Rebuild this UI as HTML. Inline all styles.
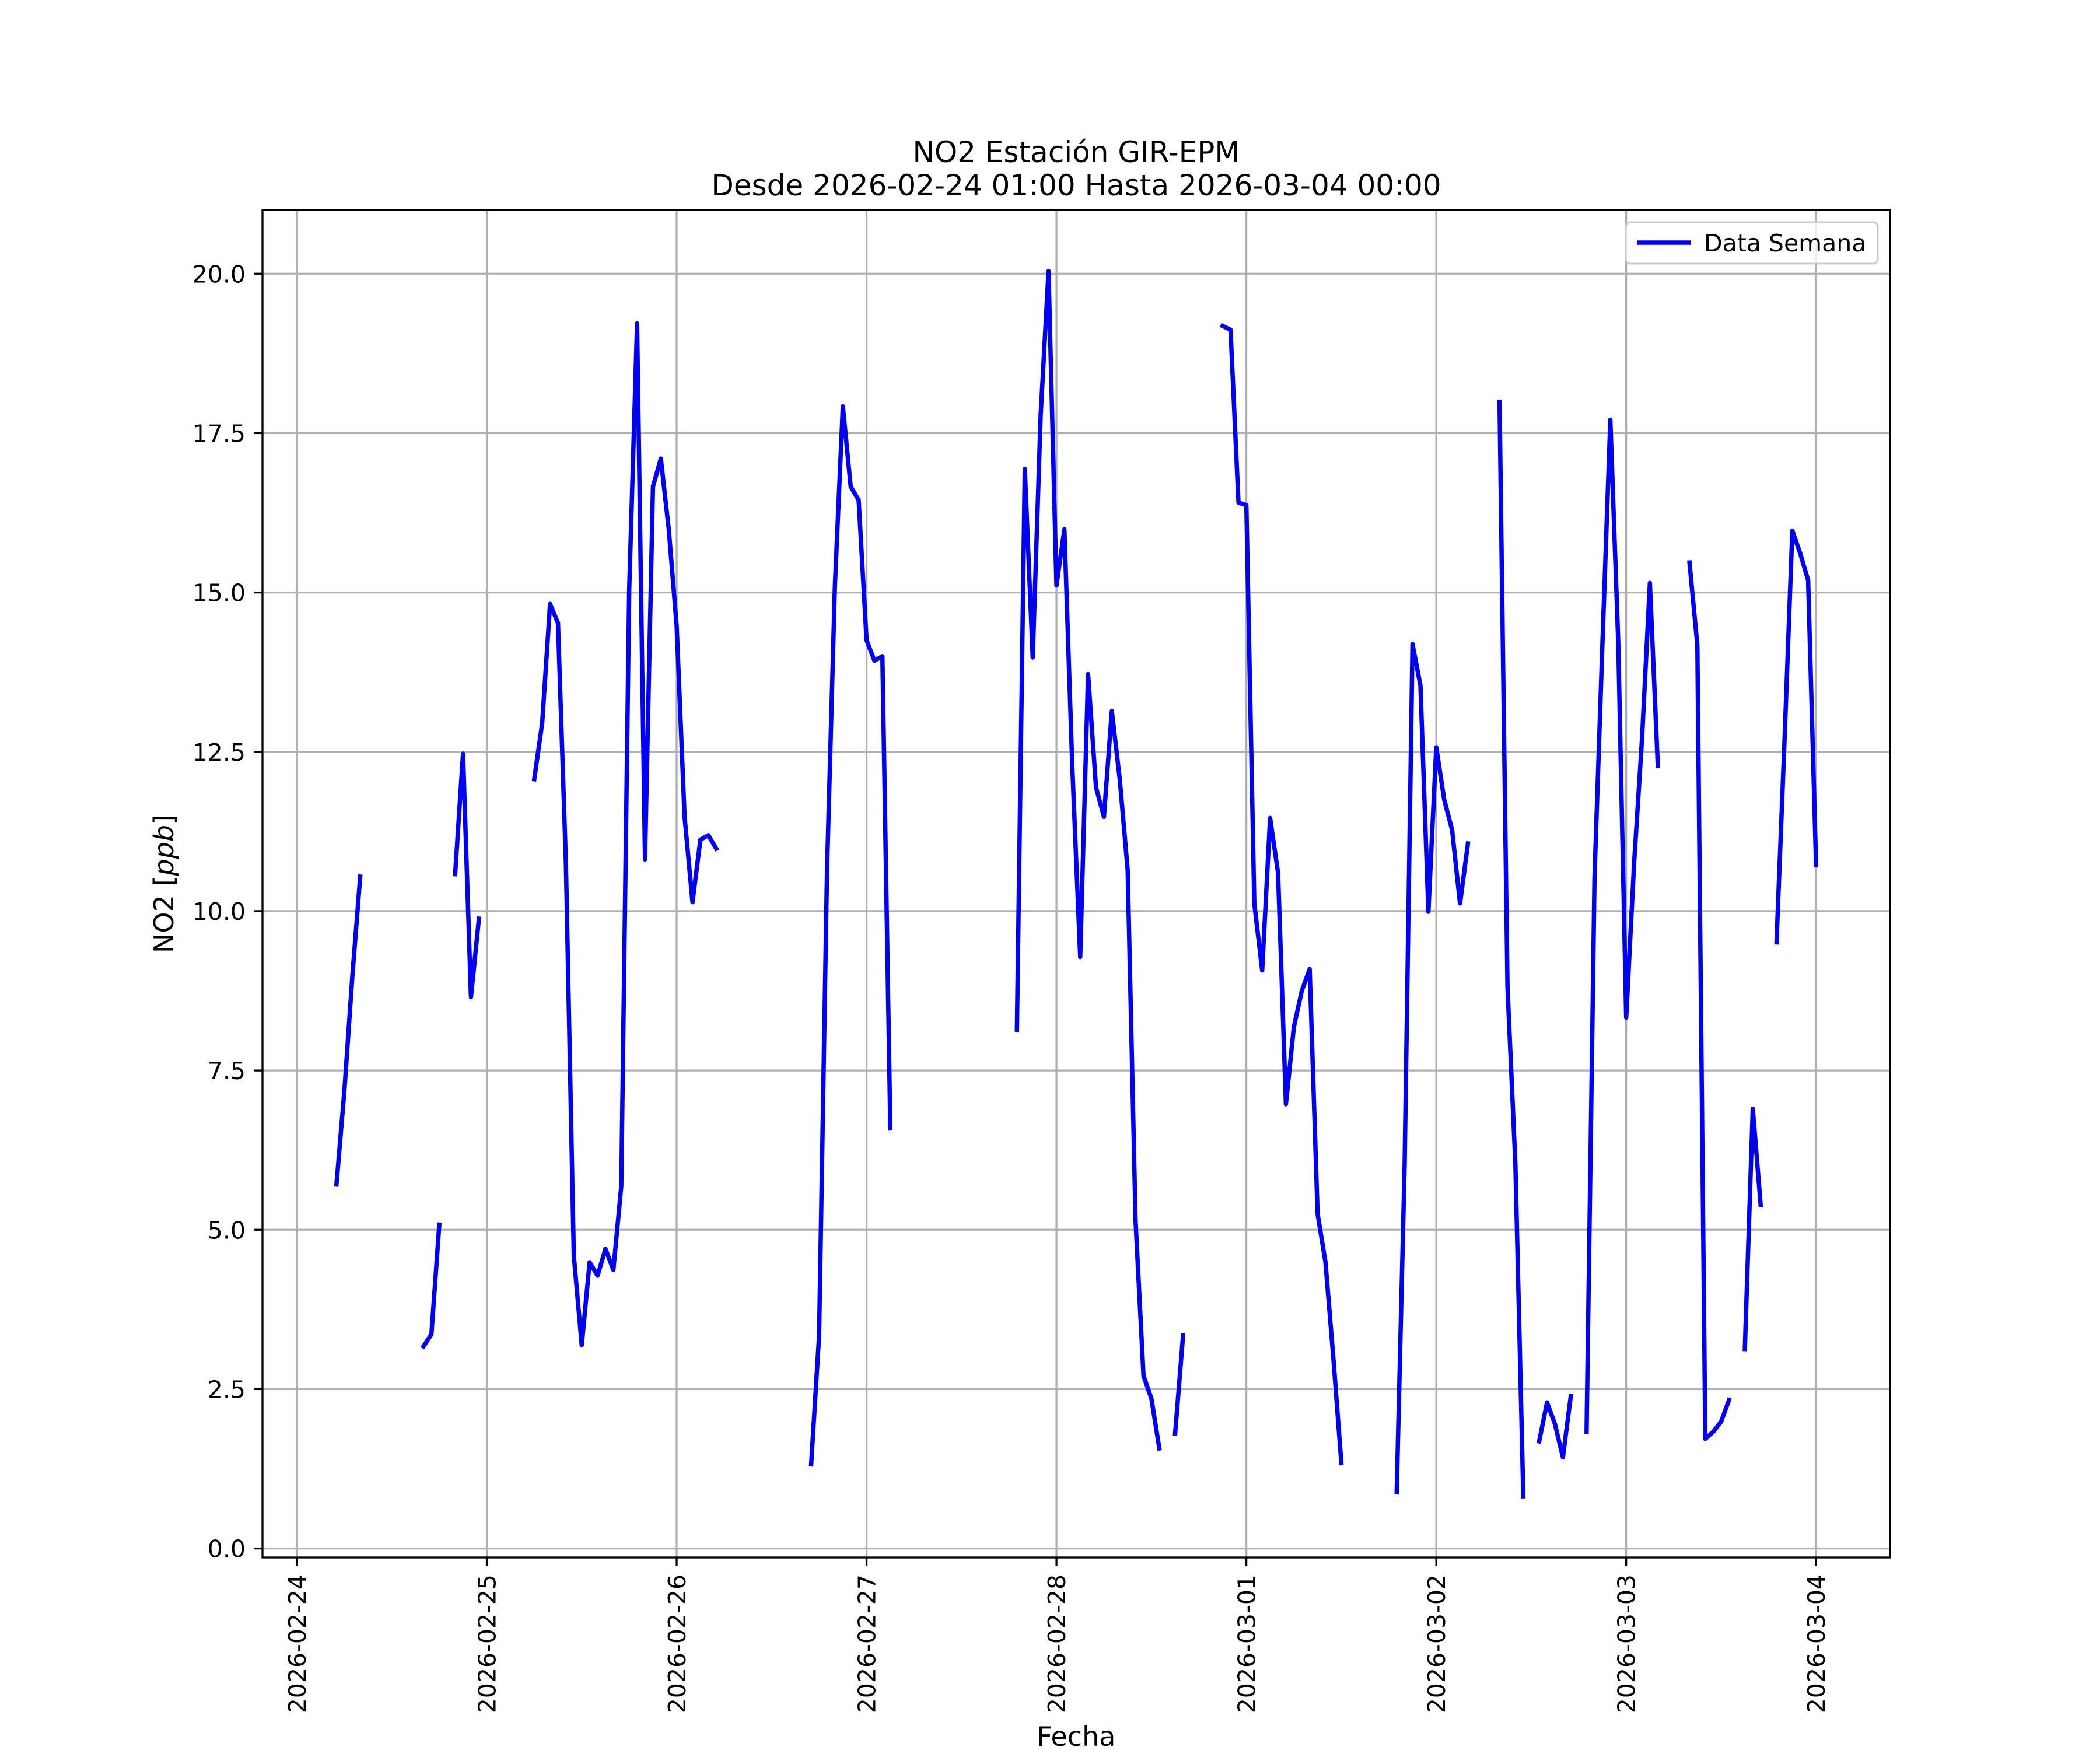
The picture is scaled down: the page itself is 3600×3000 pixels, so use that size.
<!DOCTYPE html>
<html><head><meta charset="utf-8"><style>
html,body{margin:0;padding:0;background:#fff;}
svg{display:block;font-family:"DejaVu Sans","Liberation Sans",sans-serif;}
</style></head><body>
<svg id="chart" width="3600" height="3000" viewBox="0 0 3600 3000">
<rect x="0" y="0" width="3600" height="3000" fill="#fff"/>
<g id="grid"></g>
<g id="series"></g>
<rect x="450" y="360" width="2790" height="2310" fill="none" stroke="#000" stroke-width="3.3"/>
<g id="ticks"></g>
<text x="1845" y="278" font-size="50" text-anchor="middle">NO2 Estación GIR-EPM</text>
<text x="1845" y="335" font-size="50" text-anchor="middle">Desde 2026-02-24 01:00 Hasta 2026-03-04 00:00</text>
<text x="0" y="0" font-size="46" text-anchor="middle" transform="translate(297,1515) rotate(-90)">NO2 [<tspan font-style="italic">ppb</tspan>]</text>
<text x="1845" y="2993" font-size="46" text-anchor="middle">Fecha</text>
<g>
<rect x="2787" y="381" width="432" height="71" rx="8" fill="#fff" fill-opacity="0.8" stroke="#ccc" stroke-width="3"/>
<line x1="2806" y1="416" x2="2898" y2="416" stroke="#0000ff" stroke-width="7.5"/>
<text x="2921" y="431" font-size="41">Data Semana</text>
</g>
</svg>
<script>
const xTickLabels = ["2026-02-24","2026-02-25","2026-02-26","2026-02-27","2026-02-28","2026-03-01","2026-03-02","2026-03-03","2026-03-04"];
const yTicks = [0,2.5,5,7.5,10,12.5,15,17.5,20];
const yTickLabels = ["0.0","2.5","5.0","7.5","10.0","12.5","15.0","17.5","20.0"];
const segStartHours = [5,16,20,30,65,91,111,117,139,152,157,163,176,183,187];
const segValues = [
 [5.71,7.18,8.96,10.54],
 [3.17,3.36,5.08],
 [10.58,12.47,8.65,9.88],
 [12.07,12.95,14.82,14.52,10.74,4.6,3.19,4.49,4.28,4.7,4.37,5.69,15.05,19.22,10.81,16.66,17.1,15.99,14.48,11.48,10.14,11.12,11.19,10.98],
 [1.32,3.34,10.64,15.11,17.92,16.66,16.45,14.25,13.93,14.0,6.59],
 [8.14,16.94,13.98,17.78,20.04,15.11,15.99,12.28,9.28,13.72,11.94,11.48,13.14,12.07,10.64,5.14,2.71,2.35,1.57],
 [1.8,3.34],
 [19.18,19.12,16.41,16.37,10.12,9.07,11.46,10.6,6.97,8.18,8.75,9.09,5.25,4.49,2.98,1.34],
 [0.88,6.02,14.19,13.54,9.99,12.57,11.75,11.27,10.12,11.06],
 [17.99,8.81,6.02,0.82],
 [1.68,2.29,1.95,1.43,2.39],
 [1.83,10.54,14.21,17.71,14.21,8.33,10.74,12.7,15.15,12.28],
 [15.47,14.17,1.72,1.83,1.99,2.33],
 [3.13,6.9,5.39],
 [9.51,12.63,15.97,15.61,15.19,10.72]
];
const NS="http://www.w3.org/2000/svg";
const L=450,R=3240,T=360,B=2670;
const xMin=-4.35,xMax=201.35,yMin=-0.141,yMax=21.0;
function X(h){return L+(h-xMin)/(xMax-xMin)*(R-L);}
function Y(v){return B-(v-yMin)/(yMax-yMin)*(B-T);}
function mk(tag,attrs,parent){const e=document.createElementNS(NS,tag);for(const k in attrs)e.setAttribute(k,attrs[k]);parent.appendChild(e);return e;}
const grid=document.getElementById('grid'),ticks=document.getElementById('ticks'),series=document.getElementById('series');
xTickLabels.forEach((lab,i)=>{
 const x=X(i*24);
 const g=mk('line',{x1:x,y1:T,x2:x,y2:B,stroke:'#b0b0b0','stroke-width':3.3},grid);
 
 
 const t=mk('line',{x1:x,y1:B,x2:x,y2:B+14.6,stroke:'#000','stroke-width':3.3},ticks);
 
 
 const tx=mk('text',{x:0,y:0,'font-size':41,'text-anchor':'end',transform:`translate(${x+15},${B+29}) rotate(-90)`},ticks);
 tx.textContent=lab;
 
 
});
yTicks.forEach((v,i)=>{
 const y=Y(v);
 const g=mk('line',{x1:L,y1:y,x2:R,y2:y,stroke:'#b0b0b0','stroke-width':3.3},grid);
 
 
 const t=mk('line',{x1:L-14.6,y1:y,x2:L,y2:y,stroke:'#000','stroke-width':3.3},ticks);
 
 
 const tx=mk('text',{x:L-29,y:y+15,'font-size':41,'text-anchor':'end'},ticks);
 tx.textContent=yTickLabels[i];
 
 
});
segValues.forEach((vals,si)=>{
 const pts=vals.map((v,j)=>X(segStartHours[si]+j).toFixed(1)+','+Y(v).toFixed(1)).join(' ');
 const p=mk('polyline',{points:pts,fill:'none',stroke:'#0000ff','stroke-width':7.5,'stroke-linecap':'square','stroke-linejoin':'round'},series);
 
 
});
</script>
</body></html>
